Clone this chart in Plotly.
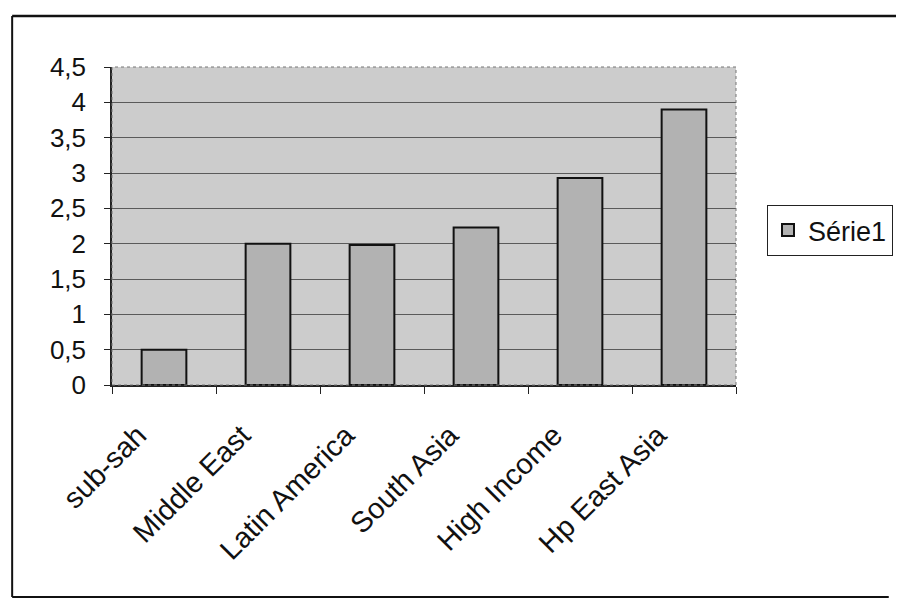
import plotly.graph_objects as go

categories = ["sub-sah", "Middle East", "Latin America", "South Asia", "High Income", "Hp East Asia"]
values = [0.5, 2.0, 1.98, 2.23, 2.93, 3.9]
series_name = "Série1"
y_tickvals = [0, 0.5, 1, 1.5, 2, 2.5, 3, 3.5, 4, 4.5]
y_ticktext = ["0", "0,5", "1", "1,5", "2", "2,5", "3", "3,5", "4", "4,5"]

# page has an 8px body margin; figure coordinates = page - 8
OFF = 8
W, H = 896, 600
L, R, T, B = 112 - OFF, 737 - OFF, 67 - OFF, 385 - OFF
pw, ph = R - L, B - T

def px(x_page):
    return (x_page - OFF - L) / pw

def py(y_page):
    return (B - (y_page - OFF)) / ph

fig = go.Figure()
fig.add_trace(go.Bar(
    x=categories, y=values, name=series_name,
    marker=dict(color="#b2b2b2", line=dict(color="#111111", width=2)),
    showlegend=True,
))

fig.update_layout(
    width=W, height=H,
    margin=dict(l=L, r=W - R, t=T, b=H - B, pad=0),
    paper_bgcolor="white",
    plot_bgcolor="#cccccc",
    font=dict(family="Liberation Sans, Arial", color="#111111"),
    bargap=0.57,
    separators=", ",
    showlegend=True,
    legend=dict(
        x=px(767), y=py(205), xanchor="left", yanchor="top",
        bgcolor="white", bordercolor="#222222", borderwidth=1,
        font=dict(size=27), itemwidth=30,
    ),
    xaxis=dict(
        type="category", tickangle=-45, tickfont=dict(size=29),
        ticks="outside", tickson="boundaries", ticklen=7, tickcolor="#222",
        ticklabelstandoff=20, ticklabelshift=-26,
        showline=True, linecolor="#222", linewidth=1.5, mirror=False,
        showgrid=False,
    ),
    yaxis=dict(
        range=[0, 4.5], tickvals=y_tickvals, ticktext=y_ticktext,
        tickfont=dict(size=26), ticks="outside", ticklen=6, tickcolor="#222",
        ticklabelstandoff=13,
        showline=True, linecolor="#222", linewidth=1.5,
        showgrid=True, gridcolor="#5a5a5a", gridwidth=1,
        zeroline=False,
    ),
    shapes=[
        dict(type="rect", xref="paper", yref="paper", x0=0, x1=1, y0=0, y1=1,
             line=dict(color="#777777", width=1, dash="dot"), layer="above"),
        dict(type="line", xref="paper", yref="paper",
             x0=px(12), x1=px(12), y0=py(597), y1=py(16),
             line=dict(color="#111111", width=2)),
        dict(type="line", xref="paper", yref="paper",
             x0=px(12), x1=px(904), y0=py(16), y1=py(16),
             line=dict(color="#111111", width=2.5)),
        dict(type="line", xref="paper", yref="paper",
             x0=px(12), x1=px(890), y0=py(597), y1=py(597),
             line=dict(color="#111111", width=2)),
    ],
)

fig.write_html("out.html")
